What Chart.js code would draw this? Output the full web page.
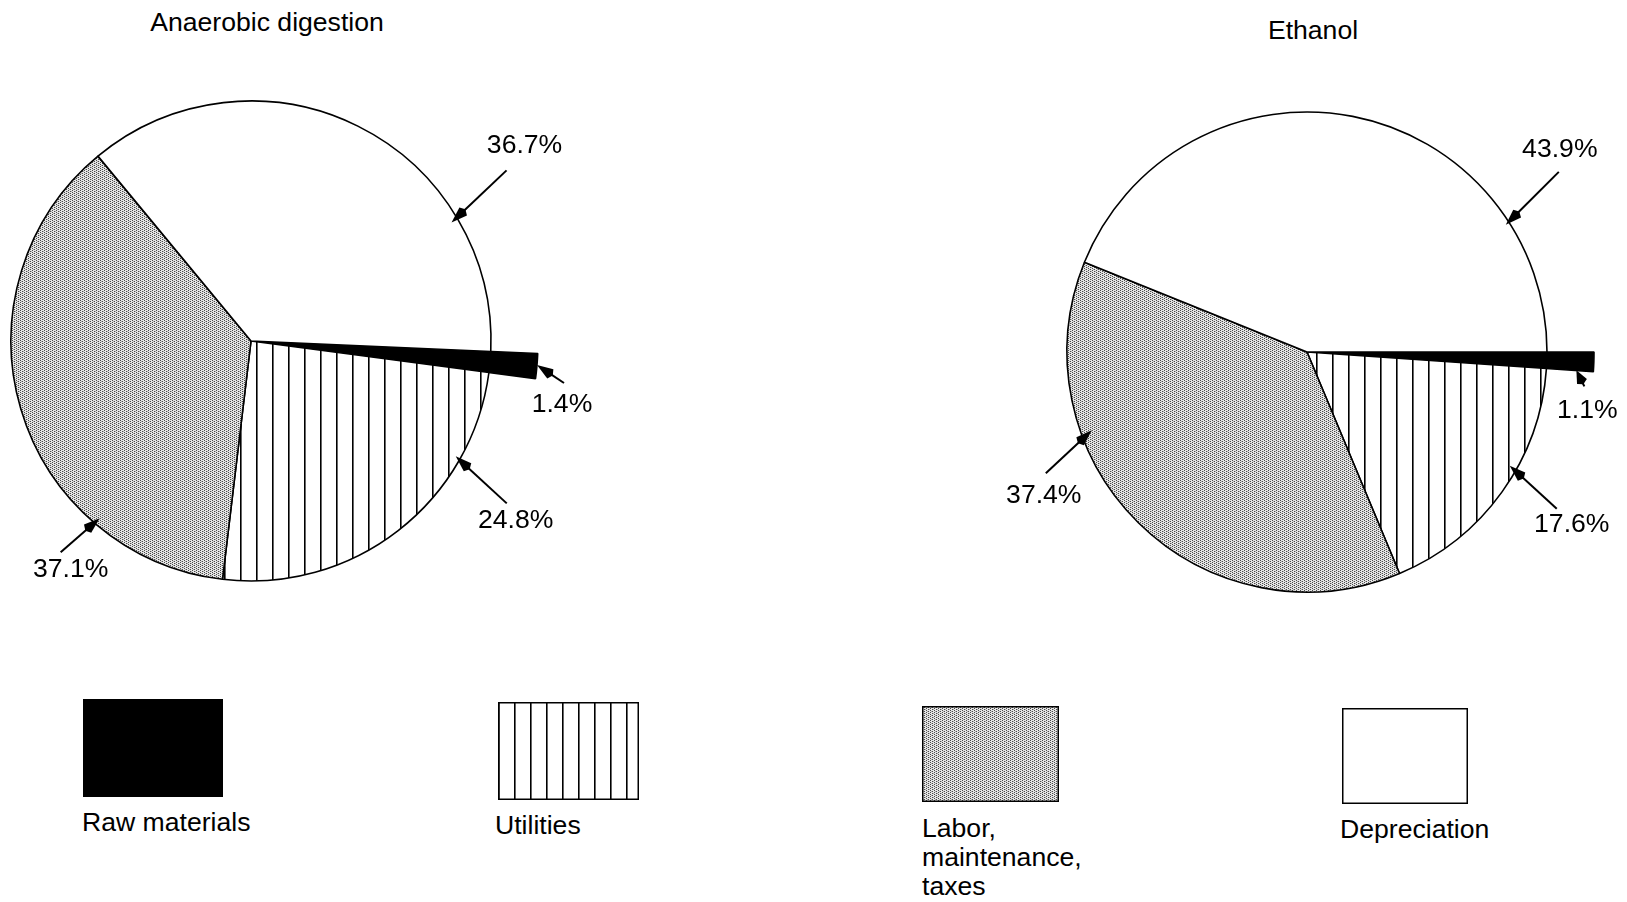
<!DOCTYPE html>
<html>
<head>
<meta charset="utf-8">
<title>Cost breakdown: anaerobic digestion vs. ethanol</title>
<script src="https://cdn.jsdelivr.net/npm/chart.js@4.4.1/dist/chart.umd.min.js"></script>
<style>
  html, body { margin: 0; padding: 0; background: #fff; }
  #page { position: relative; width: 1627px; height: 902px; overflow: hidden; background: #fff;
          font-family: "Liberation Sans", Arial, Helvetica, sans-serif; color: #000; }
  .title { position: absolute; font-size: 26.6px; white-space: nowrap; transform: translate(-50%, -50%); }
  .chartbox { position: absolute; }
  .swatch { position: absolute; }
  .legend-label { position: absolute; font-size: 26.6px; line-height: 29px; white-space: nowrap; }
</style>
</head>
<body>
<div id="page">
  <div class="title" id="title-0" style="left:267px; top:22px;"></div>
  <div class="title" id="title-1" style="left:1313px; top:30px;"></div>

  <div class="chartbox" style="left:0px; top:0px; width:620px; height:682px;">
    <canvas id="pie-0"></canvas>
  </div>
  <div class="chartbox" style="left:980px; top:0px; width:647px; height:704px;">
    <canvas id="pie-1"></canvas>
  </div>

  <canvas class="swatch" id="swatch-0" style="left:83px; top:699px;"  width="140" height="98"></canvas>
  <canvas class="swatch" id="swatch-1" style="left:498px; top:702px;" width="141" height="98"></canvas>
  <canvas class="swatch" id="swatch-2" style="left:922px; top:706px;" width="137" height="96"></canvas>
  <canvas class="swatch" id="swatch-3" style="left:1342px; top:708px;" width="126" height="96"></canvas>

  <div class="legend-label" id="label-0" style="left:82px; top:808px;"></div>
  <div class="legend-label" id="label-1" style="left:495px; top:811px;"></div>
  <div class="legend-label" id="label-2" style="left:922px; top:814px;"></div>
  <div class="legend-label" id="label-3" style="left:1340px; top:815px;"></div>
</div>

<script>
// ---- data -------------------------------------------------------------
const categories = ['Raw materials', 'Utilities', ['Labor,', 'maintenance,', 'taxes'], 'Depreciation'];
const chartTitles = ['Anaerobic digestion', 'Ethanol'];
const anaerobicShares = [1.4, 24.8, 37.1, 36.7];   // percent of total cost
const ethanolShares   = [1.1, 17.6, 37.4, 43.9];   // percent of total cost

// ---- fills ------------------------------------------------------------
function makeHatch() {
  const c = document.createElement('canvas');
  c.width = 16; c.height = 16;
  const g = c.getContext('2d');
  g.fillStyle = '#fff'; g.fillRect(0, 0, 16, 16);
  g.fillStyle = '#000'; g.fillRect(0, 0, 1, 16);
  g.fillStyle = '#666'; g.fillRect(1, 0, 1, 16);
  return c;
}
function makeStipple() {
  const c = document.createElement('canvas');
  c.width = 4; c.height = 4;
  const g = c.getContext('2d');
  g.fillStyle = '#e6e6e6'; g.fillRect(0, 0, 4, 4);
  g.fillStyle = '#4a4a4a';
  [[0,0],[2,1],[0,2],[2,3]].forEach(([x,y]) => g.fillRect(x, y, 1, 1));
  g.fillStyle = '#b0b0b0';
  [[1,1],[3,3]].forEach(([x,y]) => g.fillRect(x, y, 1, 1));
  return c;
}
const hatchTile = makeHatch();
const stippleTile = makeStipple();

function sliceFills(ctx) {
  return ['#000000', ctx.createPattern(hatchTile, 'repeat'), ctx.createPattern(stippleTile, 'repeat'), '#ffffff'];
}

// ---- plugins ----------------------------------------------------------
// Pulls one slice out past the rim so a thin wedge stays readable.
const extendSlice = {
  id: 'extendSlice',
  afterDatasetsUpdate(chart, args, opts) {
    const arc = chart.getDatasetMeta(0).data[opts.index];
    if (arc) arc.outerRadius = opts.radius;
  }
};

// Percentage labels with arrows pointing at their slices.
const callouts = {
  id: 'callouts',
  afterDraw(chart, args, opts) {
    const meta = chart.getDatasetMeta(0);
    const values = chart.data.datasets[0].data;
    const ctx = chart.ctx;
    ctx.save();
    ctx.strokeStyle = '#000';
    ctx.fillStyle = '#000';
    ctx.lineWidth = 2;
    ctx.font = '26.6px "Liberation Sans", Arial, sans-serif';
    ctx.textAlign = 'center';
    ctx.textBaseline = 'middle';
    opts.items.forEach(item => {
      const arc = meta.data[item.index];
      const a = item.angle * Math.PI / 180;
      const tx = arc.x + item.r * Math.cos(a);
      const ty = arc.y + item.r * Math.sin(a);
      const sx = tx + item.tail[0];
      const sy = ty + item.tail[1];
      const len = Math.hypot(sx - tx, sy - ty);
      const ux = (sx - tx) / len, uy = (sy - ty) / len;
      const head = Math.min(16, len * 0.7), half = 5.5;
      const bx = tx + ux * head, by = ty + uy * head;
      ctx.beginPath();
      ctx.moveTo(sx, sy);
      ctx.lineTo(bx, by);
      ctx.stroke();
      ctx.beginPath();
      ctx.moveTo(tx, ty);
      ctx.lineTo(bx - uy * half, by + ux * half);
      ctx.lineTo(bx + ux * 3, by + uy * 3);
      ctx.lineTo(bx + uy * half, by - ux * half);
      ctx.closePath();
      ctx.fill();
      ctx.fillText(values[item.index].toFixed(1) + '%', tx + item.text[0], ty + item.text[1]);
    });
    ctx.restore();
  }
};

// ---- charts -----------------------------------------------------------
function buildPie(canvasId, shares, layout) {
  const canvas = document.getElementById(canvasId);
  const ctx = canvas.getContext('2d');
  return new Chart(canvas, {
    type: 'pie',
    data: {
      labels: categories,
      datasets: [{
        data: shares,
        backgroundColor: sliceFills(ctx),
        borderColor: '#000',
        borderWidth: 1.6,
        clip: false
      }]
    },
    options: {
      responsive: true,
      maintainAspectRatio: false,
      animation: false,
      events: [],
      rotation: layout.rotation,
      radius: 240,
      layout: { padding: layout.padding },
      plugins: {
        legend: { display: false },
        tooltip: { enabled: false },
        extendSlice: { index: 0, radius: 287 },
        callouts: { items: layout.callouts }
      }
    },
    plugins: [extendSlice, callouts]
  });
}

buildPie('pie-0', anaerobicShares, {
  rotation: 92.5,
  padding: { left: 0, right: 118, top: 0, bottom: 0 },
  callouts: [
    { index: 3, angle: -30.6, r: 233, tail: [55, -52], text: [73, -77] },
    { index: 0, angle: 4.8,   r: 287, tail: [27, 18],  text: [25, 40] },
    { index: 1, angle: 29.4,  r: 235, tail: [51, 47],  text: [60, 64] },
    { index: 2, angle: 130.5, r: 233, tail: [-39, 34], text: [-29, 51] }
  ]
});

buildPie('pie-1', ethanolShares, {
  rotation: 90,
  padding: { left: 7, right: 0, top: 0, bottom: 0 },
  callouts: [
    { index: 3, angle: -32.6, r: 236,   tail: [53, -53], text: [54, -75] },
    { index: 0, angle: 3.9,   r: 270,   tail: [8, 16],   text: [11, 40] },
    { index: 1, angle: 29.3,  r: 232.5, tail: [47, 43],  text: [62, 59] },
    { index: 2, angle: 160,   r: 229,   tail: [-46, 43], text: [-48, 65] }
  ]
});

// ---- titles and legend ------------------------------------------------
chartTitles.forEach((t, i) => { document.getElementById('title-' + i).textContent = t; });

categories.forEach((label, i) => {
  const el = document.getElementById('label-' + i);
  const lines = Array.isArray(label) ? label : [label];
  el.innerHTML = lines.map(s => s.replace(/&/g, '&amp;').replace(/</g, '&lt;')).join('<br>');

  const sw = document.getElementById('swatch-' + i);
  const g = sw.getContext('2d');
  g.fillStyle = sliceFills(g)[i];
  g.fillRect(0, 0, sw.width, sw.height);
  g.strokeStyle = '#000';
  g.lineWidth = 1.5;
  g.strokeRect(0.75, 0.75, sw.width - 1.5, sw.height - 1.5);
});
</script>
</body>
</html>
